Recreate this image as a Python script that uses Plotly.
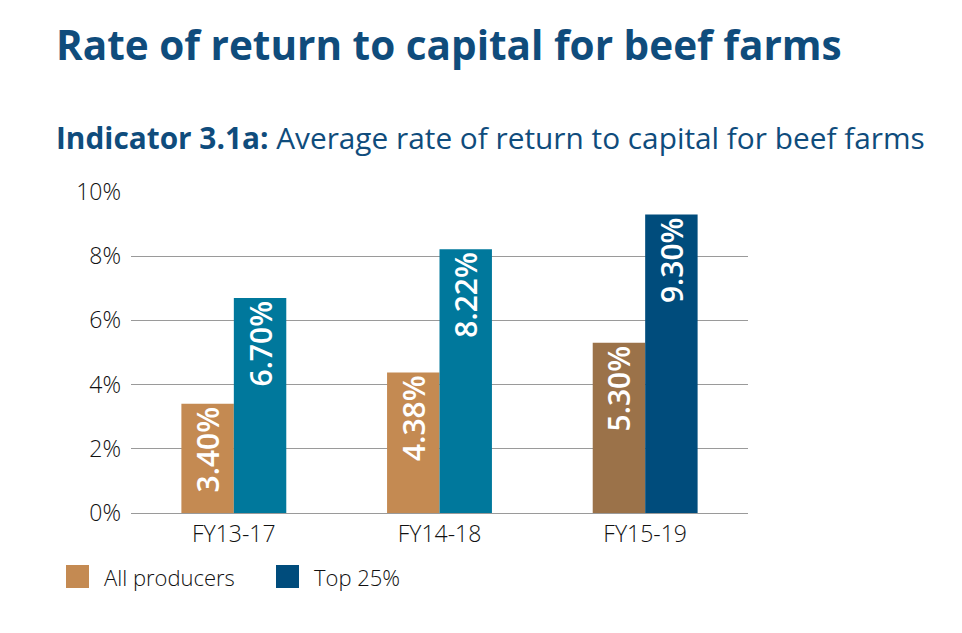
import plotly.graph_objects as go

categories = ["FY13-17", "FY14-18", "FY15-19"]
series_names = ["All producers", "Top 25%"]
all_producers = [3.40, 4.38, 5.30]
top25 = [6.70, 8.22, 9.30]
all_colors = ["#C48A52", "#C48A52", "#9B7249"]
top_colors = ["#00789C", "#00789C", "#004C7C"]
legend_colors = ["#C48A52", "#004C7C"]
y_ticks = [0, 2, 4, 6, 8, 10]
y_tick_text = [f"{v}%" for v in y_ticks]

FONT = "Open Sans"
TITLE_COLOR = "#0F4C7C"
OFF = 8  # page offset of the figure in the browser

L, T = 131 - OFF, 192 - OFF
PW, PH = 617, 321
W, H = 962, 633

fig = go.Figure()
for name, vals, cols in [(series_names[0], all_producers, all_colors),
                         (series_names[1], top25, top_colors)]:
    fig.add_trace(go.Bar(
        x=categories, y=vals, name=name,
        marker=dict(color=cols, line=dict(width=0)),
        texttemplate="%{y:.2f}%", textposition="inside",
        insidetextanchor="end", textangle=-90,
        textfont=dict(family=FONT, size=30, color="white", weight=600),
        showlegend=False, hoverinfo="skip",
    ))

fig.update_layout(
    width=W, height=H,
    margin=dict(l=L, r=W - L - PW, t=T, b=H - T - PH),
    paper_bgcolor="white", plot_bgcolor="white",
    barmode="group", bargap=0.49, bargroupgap=0,
    font=dict(family=FONT, color="#111111"),
    title=dict(text="<b>Rate of return to capital for beef farms</b>",
               x=(56 - OFF) / W, xanchor="left", xref="container",
               y=1 - (32 - OFF) / H, yanchor="top", yref="container",
               font=dict(family=FONT, size=40.5, color=TITLE_COLOR)),
    xaxis=dict(showgrid=False, showline=True, linecolor="#9a9a9a", linewidth=1,
               ticks="", tickfont=dict(size=23, color="#111111", family=FONT, weight=300)),
    yaxis=dict(range=[0, 10], tickvals=y_ticks, ticktext=y_tick_text,
               showgrid=True, gridcolor="#9a9a9a", gridwidth=1,
               zeroline=False, ticks="", ticklabelstandoff=9,
               tickfont=dict(size=23, color="#111111", family=FONT, weight=300)),
)

# subtitle
fig.add_annotation(text="<b>Indicator 3.1a:</b> Average rate of return to capital for beef farms",
                   xref="paper", yref="paper", x=(54 - 131) / PW, y=1 + (192 - 115) / PH,
                   xanchor="left", yanchor="top", showarrow=False,
                   font=dict(family=FONT, size=29.8, color=TITLE_COLOR))

# legend (manual, larger swatches)
legend_x = [66, 276]
for i, (nm, col) in enumerate(zip(series_names, legend_colors)):
    x0 = legend_x[i]
    fig.add_shape(type="rect", xref="paper", yref="paper",
                  x0=(x0 - 131) / PW, x1=(x0 + 23 - 131) / PW,
                  y0=-(565 - 513) / PH, y1=-(588 - 513) / PH,
                  fillcolor=col, line=dict(width=0))
    fig.add_annotation(text=nm, xref="paper", yref="paper",
                       x=(x0 + 36 - 131) / PW, y=-(577 - 513) / PH,
                       xanchor="left", yanchor="middle", showarrow=False,
                       font=dict(family=FONT, size=22, color="#111111", weight=300))

fig.write_html("out.html")
